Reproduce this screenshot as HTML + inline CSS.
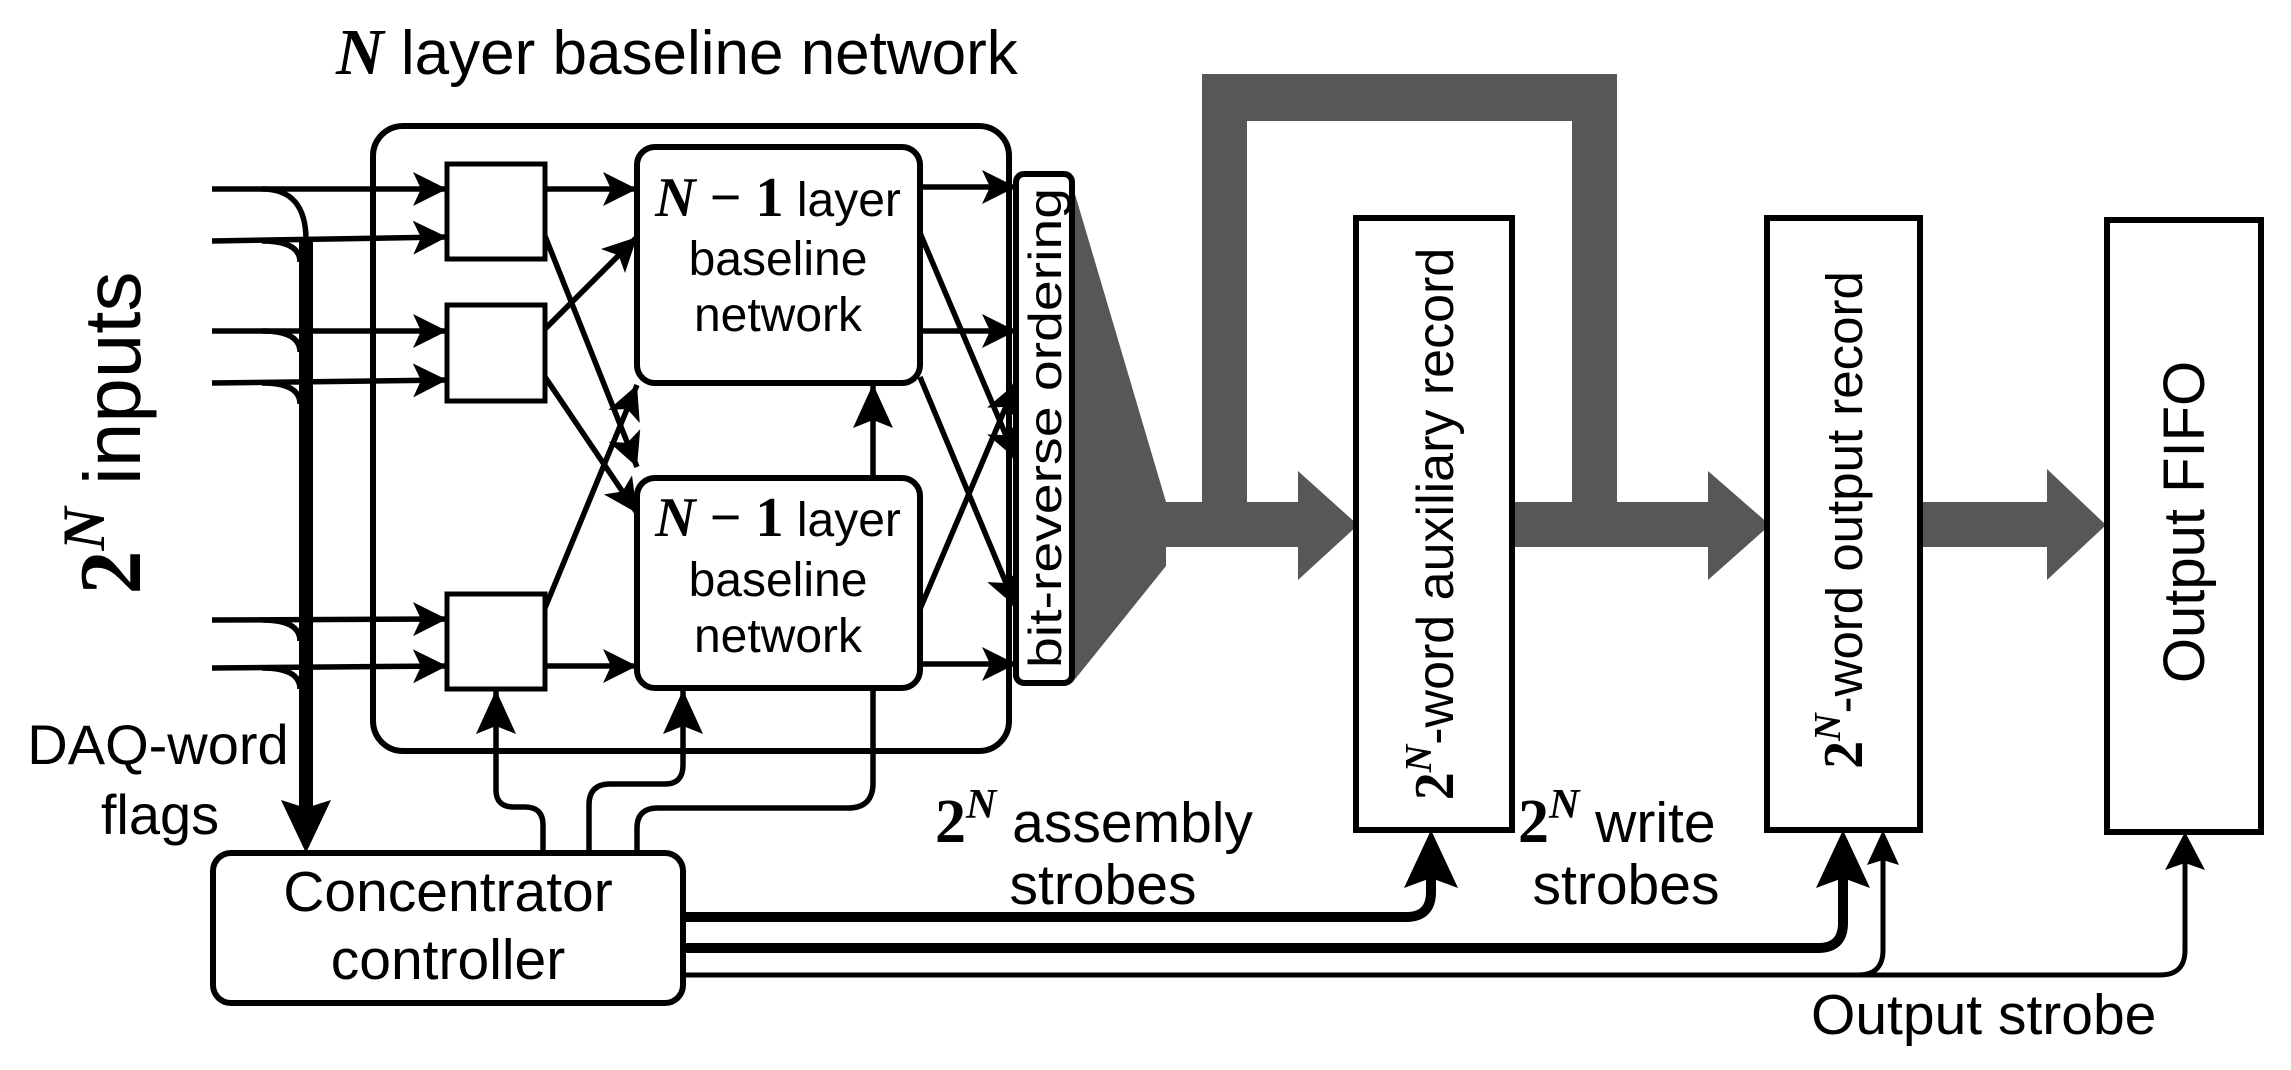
<!DOCTYPE html>
<html><head><meta charset="utf-8"><style>
html,body{margin:0;padding:0;background:#fff}
svg{display:block}
text{font-family:"Liberation Sans",Arial,sans-serif;fill:#000}
.m{font-family:"Liberation Serif",serif;font-weight:bold}
.mi{font-family:"Liberation Serif",serif;font-style:italic;font-weight:bold}
</style></head><body>
<svg width="2291" height="1070" viewBox="0 0 2291 1070" xmlns="http://www.w3.org/2000/svg">
<defs>
<marker id="a" markerWidth="36" markerHeight="36" refX="34" refY="18" orient="auto" markerUnits="userSpaceOnUse">
<path d="M0,1 L34,18 L0,35 L8,18 Z" fill="#000"/></marker>
<marker id="c" markerWidth="48" markerHeight="44" refX="44" refY="20" orient="auto" markerUnits="userSpaceOnUse">
<path d="M0,0 L44,20 L0,40 L8,20 Z" fill="#000"/></marker>
</defs>

<!-- title -->
<text x="336" y="74" font-size="62"><tspan class="mi" font-size="66">N</tspan> layer baseline network</text>

<!-- gray data path -->
<g fill="#575757">
<polygon points="1072,184 1166,502 1166,566 1072,683"/>
<rect x="1160" y="502" width="140" height="45"/>
<polygon points="1298,471 1358,525 1298,580"/>
<rect x="1202" y="74" width="45" height="440"/>
<rect x="1202" y="74" width="415" height="47"/>
<rect x="1572" y="74" width="45" height="470"/>
<rect x="1510" y="502" width="200" height="45"/>
<polygon points="1708,471 1770,525 1708,580"/>
<rect x="1918" y="502" width="132" height="45"/>
<polygon points="2047,469 2106,525 2047,580"/>
</g>

<g fill="none" stroke="#000" stroke-width="6">
<rect x="373" y="126" width="636" height="625" rx="30"/>
<rect x="447" y="164" width="98" height="95" stroke-width="5"/>
<rect x="447" y="305" width="98" height="96" stroke-width="5"/>
<rect x="447" y="594" width="98" height="95" stroke-width="5"/>
<rect x="637" y="147" width="283" height="236" rx="18"/>
<rect x="637" y="478" width="283" height="210" rx="18"/>
<rect x="1016" y="174" width="56" height="509" rx="8"/>
<rect x="1356" y="218" width="156" height="612"/>
<rect x="1767" y="218" width="153" height="612"/>
<rect x="2107" y="220" width="154" height="612"/>
<rect x="213" y="853" width="470" height="150" rx="18"/>
</g>

<!-- inputs -->
<g fill="none" stroke="#000" stroke-width="5.5">
<line x1="212" y1="189" x2="447" y2="189" marker-end="url(#a)"/>
<line x1="212" y1="241" x2="447" y2="237" marker-end="url(#a)"/>
<line x1="212" y1="331" x2="447" y2="331" marker-end="url(#a)"/>
<line x1="212" y1="383" x2="447" y2="380" marker-end="url(#a)"/>
<line x1="212" y1="620" x2="447" y2="619" marker-end="url(#a)"/>
<line x1="212" y1="668" x2="447" y2="666" marker-end="url(#a)"/>
<path d="M262,189 Q306,189 306,240"/>
<path d="M262,241 Q300,241 300,262"/>
<path d="M262,331 Q300,331 300,352"/>
<path d="M262,383 Q300,383 300,404"/>
<path d="M262,620 Q300,620 300,641"/>
<path d="M262,668 Q300,668 300,689"/>
</g>
<line x1="306" y1="240" x2="306" y2="812" stroke="#000" stroke-width="14"/>
<polygon points="281,800 306,853 331,800 306,808" fill="#000"/>

<!-- internal arrows -->
<g fill="none" stroke="#000" stroke-width="5.5">
<line x1="545" y1="189" x2="637" y2="189" marker-end="url(#a)"/>
<line x1="545" y1="236" x2="637" y2="467" marker-end="url(#a)"/>
<line x1="545" y1="329" x2="637" y2="237" marker-end="url(#a)"/>
<line x1="545" y1="377" x2="637" y2="513" marker-end="url(#a)"/>
<line x1="545" y1="608" x2="637" y2="385" marker-end="url(#a)"/>
<line x1="545" y1="666" x2="637" y2="666" marker-end="url(#a)"/>
<line x1="873" y1="478" x2="873" y2="384" marker-end="url(#c)"/>
<line x1="920" y1="187" x2="1016" y2="187" marker-end="url(#a)"/>
<line x1="920" y1="331" x2="1016" y2="331" marker-end="url(#a)"/>
<line x1="920" y1="233" x2="1016" y2="459" marker-end="url(#a)"/>
<line x1="920" y1="377" x2="1016" y2="607" marker-end="url(#a)"/>
<line x1="920" y1="609" x2="1016" y2="383" marker-end="url(#a)"/>
<line x1="920" y1="664" x2="1016" y2="664" marker-end="url(#a)"/>
<path d="M543,853 L543,825 Q543,807 525,807 L514,807 Q496,807 496,790 L496,690" marker-end="url(#c)"/>
<path d="M589,853 L589,805 Q589,784 610,784 L665,784 Q683,784 683,765 L683,690" marker-end="url(#c)"/>
<path d="M637,853 L637,828 Q637,808 658,808 L848,808 Q873,808 873,783 L873,688"/>
</g>

<!-- strobe lines -->
<g fill="none" stroke="#000">
<path d="M683,917 L1406,917 Q1431,917 1431,892 L1431,870" stroke-width="10"/>
<path d="M683,948 L1818,948 Q1843,948 1843,923 L1843,870" stroke-width="10"/>
<path d="M683,975 L2160,975 Q2185,975 2185,950 L2185,845" stroke-width="5"/>
<path d="M1858,975 Q1883,975 1883,950 L1883,855" stroke-width="5"/>
</g>
<g fill="#000">
<polygon points="1404,888 1431,830 1458,888 1431,878"/>
<polygon points="1816,888 1843,830 1870,888 1843,878"/>
<polygon points="1867,865 1883,830 1899,865 1883,860"/>
<polygon points="2165,870 2185,832 2205,870 2185,863"/>
</g>

<!-- labels -->
<g text-anchor="middle">
<text x="778" y="216" font-size="48"><tspan class="mi" font-size="56">N</tspan><tspan class="m" font-size="56"> − 1</tspan> layer</text>
<text x="778" y="275" font-size="48">baseline</text>
<text x="778" y="331" font-size="48">network</text>
<text x="778" y="536" font-size="48"><tspan class="mi" font-size="56">N</tspan><tspan class="m" font-size="56"> − 1</tspan> layer</text>
<text x="778" y="596" font-size="48">baseline</text>
<text x="778" y="652" font-size="48">network</text>
<text x="448" y="911" font-size="57">Concentrator</text>
<text x="448" y="979" font-size="57">controller</text>
<text x="158" y="764" font-size="56">DAQ-word</text>
<text x="160" y="834" font-size="56">flags</text>
<text x="1103" y="904" font-size="57">strobes</text>
<text x="1626" y="904" font-size="57">strobes</text>
</g>
<text x="935" y="842" font-size="57"><tspan class="m" font-size="62">2</tspan><tspan class="mi" font-size="42" dy="-24">N</tspan><tspan dy="24"> assembly</tspan></text>
<text x="1518" y="842" font-size="57"><tspan class="m" font-size="62">2</tspan><tspan class="mi" font-size="42" dy="-24">N</tspan><tspan dy="24"> write</tspan></text>
<text x="1811" y="1034" font-size="57">Output strobe</text>

<text transform="translate(1061,428) rotate(-90)" text-anchor="middle" font-size="46" textLength="480" lengthAdjust="spacingAndGlyphs">bit-reverse ordering</text>
<text transform="translate(1453,524) rotate(-90)" text-anchor="middle" font-size="52"><tspan class="m" font-size="56">2</tspan><tspan class="mi" font-size="38" dy="-22">N</tspan><tspan dy="22">-word auxiliary record</tspan></text>
<text transform="translate(1862,520) rotate(-90)" text-anchor="middle" font-size="51"><tspan class="m" font-size="56">2</tspan><tspan class="mi" font-size="38" dy="-22">N</tspan><tspan dy="22">-word output record</tspan></text>
<text transform="translate(2204,522) rotate(-90)" text-anchor="middle" font-size="58">Output FIFO</text>
<text transform="translate(140,433) rotate(-90)" text-anchor="middle" font-size="80"><tspan class="m" font-size="88">2</tspan><tspan class="mi" font-size="60" dy="-36">N</tspan><tspan dy="36"> inputs</tspan></text>
</svg>
</body></html>
